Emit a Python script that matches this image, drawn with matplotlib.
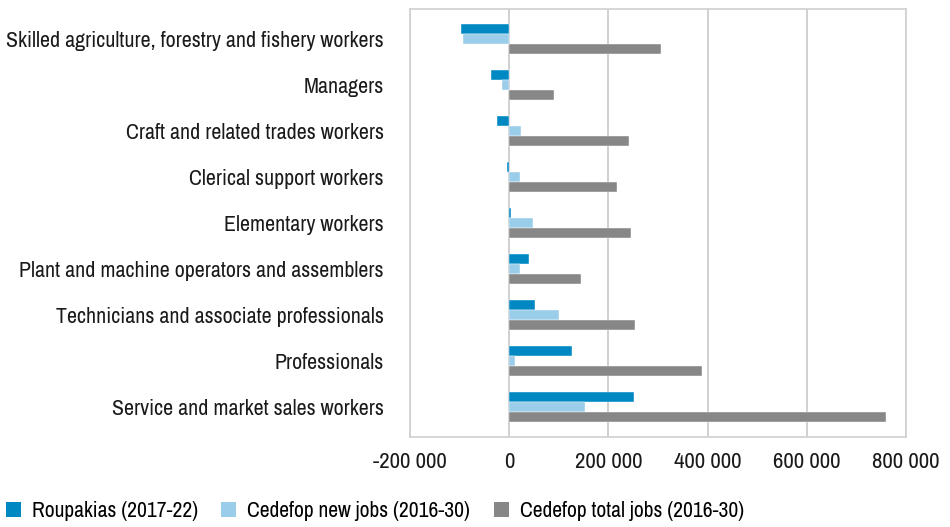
import matplotlib
matplotlib.use("Agg")
import matplotlib.pyplot as plt
import numpy as np
from matplotlib.patches import Patch

categories = [
    "Skilled agriculture, forestry and fishery workers",
    "Managers",
    "Craft and related trades workers",
    "Clerical support workers",
    "Elementary workers",
    "Plant and machine operators and assemblers",
    "Technicians and associate professionals",
    "Professionals",
    "Service and market sales workers",
]
roupakias = [-98000, -37600, -24800, -5400, 4000, 39600, 51700, 126800, 251000]
cedefop_new = [-92600, -14700, 24200, 22100, 47000, 20800, 100000, 12100, 153600]
cedefop_total = [306000, 90600, 241600, 216800, 246300, 144300, 253000, 388600, 760400]
series_names = ["Roupakias (2017-22)", "Cedefop new jobs (2016-30)", "Cedefop total jobs (2016-30)"]
colors = ["#0088c3", "#9acde9", "#878787"]
xticks = [-200000, 0, 200000, 400000, 600000, 800000]
xticklabels = ["-200 000", "0", "200 000", "400 000", "600 000", "800 000"]

plt.rcParams['font.family'] = ['Archivo Narrow', 'Liberation Sans Narrow', 'DejaVu Sans']

fig = plt.figure(figsize=(9.5, 5.27), dpi=100)
ax = fig.add_axes([0.4316, 0.1708, 0.5221, 0.8121])

y = np.arange(len(categories))
h = 0.217
for i, (vals, c) in enumerate(zip([roupakias, cedefop_new, cedefop_total], colors)):
    ax.barh(y + (i - 1) * h, vals, height=h, color=c, edgecolor='white', linewidth=0.3, zorder=3)

ax.set_ylim(8.64, -0.64)
ax.set_xlim(-200000, 800000)
ax.set_yticks(y)
ax.set_yticklabels(categories, fontsize=15.8, color='#1a1a1a')
ax.set_xticks(xticks)
ax.set_xticklabels(xticklabels, fontsize=16.5, color='#1a1a1a')
ax.tick_params(axis='y', length=0, pad=19)
ax.tick_params(axis='x', length=0, pad=11)
ax.grid(axis='x', color='#c8c8c8', linewidth=1.2, zorder=0)
for s in ax.spines.values():
    s.set_color('#d0d0d0')
    s.set_linewidth(1.2)

handles = [Patch(facecolor=c, edgecolor='none') for c in colors]
fig.legend(handles, series_names, loc='lower left', bbox_to_anchor=(0.006, 0.012), ncol=3, frameon=False,
           fontsize=15.5, handlelength=0.7, handleheight=0.7, handletextpad=0.5, columnspacing=1.1,
           borderaxespad=0.0, borderpad=0.0)

fig.savefig("out.png", dpi=100)
